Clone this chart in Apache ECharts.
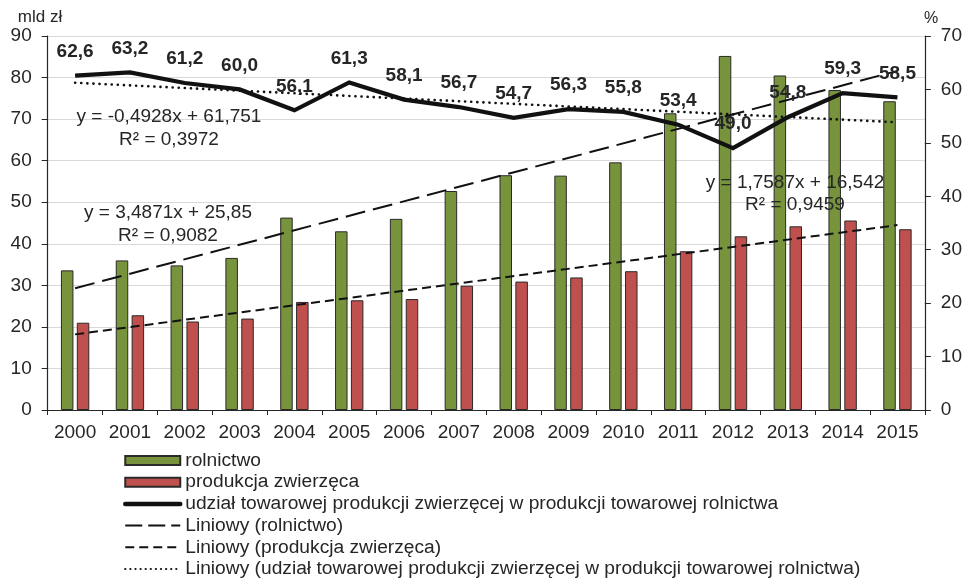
<!DOCTYPE html>
<html>
<head>
<meta charset="utf-8">
<script src="https://cdn.jsdelivr.net/npm/echarts@6/dist/echarts.min.js"></script>
<style>
html,body{margin:0;padding:0;background:#fff;}
#chart{width:965px;height:583px;}
</style>
</head>
<body>
<div id="chart"></div>
<script>
// ---- data ----
const years = ['2000','2001','2002','2003','2004','2005','2006','2007','2008','2009','2010','2011','2012','2013','2014','2015'];
const rolnictwo = [33.6, 36.0, 34.8, 36.6, 46.3, 43.0, 46.0, 52.7, 56.5, 56.4, 59.6, 71.4, 85.2, 80.5, 77.0, 74.3];
const produkcjaZwierzeca = [21.0, 22.8, 21.3, 22.0, 26.0, 26.4, 26.7, 29.9, 30.9, 31.9, 33.4, 38.2, 41.8, 44.2, 45.6, 43.5];
const udzial = [62.6, 63.2, 61.2, 60.0, 56.1, 61.3, 58.1, 56.7, 54.7, 56.3, 55.8, 53.4, 49.0, 54.8, 59.3, 58.5];
// trend line end points (first and last year)
const trendRolnictwo = [29.3, 81.6];
const trendProdukcja = [18.2, 44.5];
const trendUdzial = [61.25, 53.85];
const leftTicks = [0, 90, 10];   // min, max, interval
const rightTicks = [0, 70, 10];
const unitLeft = 'mld zł';
const unitRight = '%';
const seriesNames = [
  'rolnictwo',
  'produkcja zwierzęca',
  'udział towarowej produkcji zwierzęcej w produkcji towarowej rolnictwa',
  'Liniowy (rolnictwo)',
  'Liniowy (produkcja zwierzęca)',
  'Liniowy (udział towarowej produkcji zwierzęcej w produkcji towarowej rolnictwa)'
];
const equations = [
  ['y = -0,4928x + 61,751', 'R² = 0,3972'],
  ['y = 3,4871x + 25,85', 'R² = 0,9082'],
  ['y = 1,7587x + 16,542', 'R² = 0,9459']
];

const FONT = '"Liberation Sans", Arial, sans-serif';
const TXT = '#262626';

function endpoints(t) {
  return years.map((_, i) => i === 0 ? t[0] : (i === years.length - 1 ? t[1] : null));
}

const chart = echarts.init(document.getElementById('chart'), null, {renderer: 'canvas'});

function txt(s, x, y, size, align) {
  return {type: 'text', x: x, y: y, z: 100,
    style: {text: s, fill: TXT, font: size + 'px ' + FONT, textAlign: align || 'center', textVerticalAlign: 'middle'}};
}
function eqText(lines, cx, y1, y2) {
  return [txt(lines[0], cx, y1, 19), txt(lines[1], cx, y2, 19)];
}
const hideSym = {opacity: 0};

const option = {
  backgroundColor: '#fff',
  animation: false,
  textStyle: {fontFamily: FONT},
  grid: {left: 47.7, right: 39.3, top: 36, bottom: 173, containLabel: false},
  legend: {
    orient: 'vertical',
    left: 123,
    top: 451,
    padding: 0,
    height: 132,
    itemWidth: 55,
    itemHeight: 9,
    itemGap: 2.7,
    textStyle: {fontSize: 19.2, color: TXT, fontFamily: FONT, lineHeight: 19},
    data: [
      {name: seriesNames[0], icon: 'rect'},
      {name: seriesNames[1], icon: 'rect'},
      {name: seriesNames[2], itemStyle: hideSym, lineStyle: {width: 4.5, cap: 'round', color: '#111'}},
      {name: seriesNames[3], itemStyle: hideSym, lineStyle: {width: 2, type: [17, 6]}},
      {name: seriesNames[4], itemStyle: hideSym, lineStyle: {width: 2, type: [9, 5]}},
      {name: seriesNames[5], itemStyle: hideSym, lineStyle: {width: 2.2, type: [0.1, 5], cap: 'round'}}
    ]
  },
  xAxis: {
    type: 'category',
    data: years,
    boundaryGap: true,
    axisLine: {lineStyle: {color: TXT, width: 1.2}},
    axisTick: {show: true, alignWithLabel: false, length: 5, lineStyle: {color: TXT}},
    axisLabel: {fontSize: 19, color: TXT, margin: 13, fontFamily: FONT, interval: 0}
  },
  yAxis: [
    {
      type: 'value', min: leftTicks[0], max: leftTicks[1], interval: leftTicks[2],
      axisLine: {show: true, lineStyle: {color: TXT, width: 1.2}},
      axisTick: {show: true, length: 6, lineStyle: {color: TXT}},
      axisLabel: {fontSize: 19, color: TXT, margin: 16, fontFamily: FONT},
      splitLine: {show: true, lineStyle: {color: '#d9d9d9', width: 1.2}}
    },
    {
      type: 'value', min: rightTicks[0], max: rightTicks[1], interval: rightTicks[2],
      axisLine: {show: true, lineStyle: {color: TXT, width: 1.2}},
      axisTick: {show: true, length: 6, lineStyle: {color: TXT}},
      axisLabel: {fontSize: 19, color: TXT, margin: 16, fontFamily: FONT},
      splitLine: {show: false}
    }
  ],
  series: [
    {
      name: seriesNames[0], type: 'bar', data: rolnictwo, yAxisIndex: 0,
      barWidth: 12.5, barGap: '27%',
      itemStyle: {color: '#77933c', borderColor: '#2a2a2a', borderWidth: 1}
    },
    {
      name: seriesNames[1], type: 'bar', data: produkcjaZwierzeca, yAxisIndex: 0,
      barWidth: 12.5, barGap: '27%',
      itemStyle: {color: '#c0504d', borderColor: '#2a2a2a', borderWidth: 1}
    },
    {
      name: seriesNames[2], type: 'line', data: udzial, yAxisIndex: 1, z: 5,
      symbol: 'circle', symbolSize: 1, showSymbol: true,
      lineStyle: {color: '#111', width: 4.2, join: 'miter'},
      itemStyle: {color: 'rgba(0,0,0,0)'},
      label: {
        show: true, position: 'top', distance: 14,
        fontSize: 19, fontWeight: 'bold', color: TXT, fontFamily: FONT,
        formatter: p => p.value.toFixed(1).replace('.', ',')
      },
      labelLayout: {hideOverlap: false}
    },
    {
      name: seriesNames[3], type: 'line', data: endpoints(trendRolnictwo), yAxisIndex: 0, z: 4,
      connectNulls: true, symbol: 'none',
      lineStyle: {color: '#111', width: 2, type: [20, 8]},
      itemStyle: {color: '#111'}
    },
    {
      name: seriesNames[4], type: 'line', data: endpoints(trendProdukcja), yAxisIndex: 0, z: 4,
      connectNulls: true, symbol: 'none',
      lineStyle: {color: '#111', width: 2, type: [9, 5]},
      itemStyle: {color: '#111'}
    },
    {
      name: seriesNames[5], type: 'line', data: endpoints(trendUdzial), yAxisIndex: 1, z: 4,
      connectNulls: true, symbol: 'none',
      lineStyle: {color: '#111', width: 2.6, type: [0.1, 6], cap: 'round'},
      itemStyle: {color: '#111'}
    }
  ],
  graphic: [].concat(
    eqText(equations[0], 169, 117, 140),
    eqText(equations[1], 168, 213, 236),
    eqText(equations[2], 795, 183, 205),
    [txt(unitLeft, 40, 17, 17), txt(unitRight, 931, 19, 16)]
  )
};
chart.setOption(option);
</script>
</body>
</html>
